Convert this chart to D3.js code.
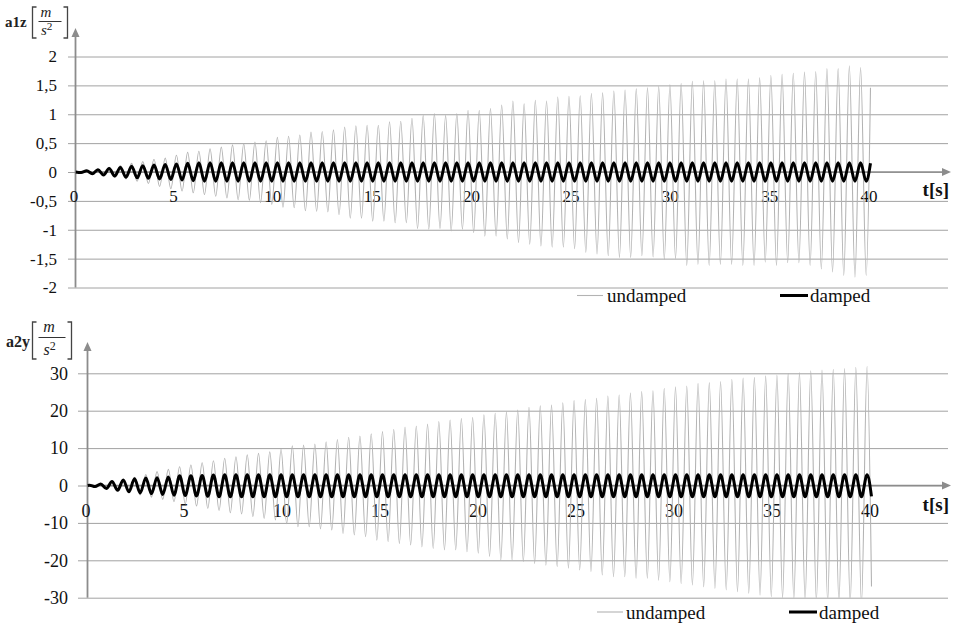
<!DOCTYPE html>
<html>
<head>
<meta charset="utf-8">
<script src="https://cdn.jsdelivr.net/npm/d3@7"></script>
<style>
  html, body { margin: 0; padding: 0; background: #fff; }
  svg, svg text { font-family: "Liberation Serif", "Times New Roman", serif; }
</style>
</head>
<body>
<svg id="chart" width="953" height="625"></svg>
<script>
// ---------------- data ----------------
const timeTicks = [0, 5, 10, 15, 20, 25, 30, 35, 40];
const a1zTicks = [-2, -1.5, -1, -0.5, 0, 0.5, 1, 1.5, 2];
const a2yTicks = [-30, -20, -10, 0, 10, 20, 30];
const seriesNames = ["undamped", "damped"];
const tEnd = 40; // s

// a1z: successive maxima / minima of the response (m/s²), half a period apart
const a1zPeriod = 0.5643;   // s
const a1zFirstPeak = 0;     // s
const a1zUndampedMax = [
  0, 0.02, 0.05, 0.08, 0.11, 0.15, 0.18, 0.22, 0.24, 0.29,
  0.34, 0.36, 0.40, 0.43, 0.47, 0.49, 0.52, 0.54, 0.60, 0.62,
  0.64, 0.69, 0.70, 0.73, 0.78, 0.80, 0.81, 0.81, 0.87, 0.88,
  0.93, 0.98, 1.01, 0.98, 1.01, 1.07, 1.07, 1.10, 1.16, 1.23,
  1.18, 1.24, 1.23, 1.30, 1.31, 1.32, 1.36, 1.37, 1.40, 1.42,
  1.44, 1.46, 1.48, 1.51, 1.53, 1.57, 1.58, 1.58, 1.61, 1.61,
  1.61, 1.63, 1.67, 1.69, 1.71, 1.73, 1.74, 1.79, 1.79, 1.84,
  1.81
];
const a1zUndampedMin = [
  -0.01, -0.03, -0.06, -0.09, -0.12, -0.16, -0.20, -0.25, -0.29, -0.33,
  -0.36, -0.39, -0.42, -0.45, -0.48, -0.49, -0.53, -0.56, -0.61, -0.62,
  -0.67, -0.68, -0.69, -0.74, -0.80, -0.80, -0.85, -0.85, -0.88, -0.88,
  -0.98, -0.99, -0.98, -1.02, -0.99, -1.05, -1.11, -1.11, -1.16, -1.22,
  -1.25, -1.28, -1.30, -1.30, -1.33, -1.39, -1.42, -1.45, -1.48, -1.48,
  -1.45, -1.47, -1.51, -1.50, -1.62, -1.60, -1.62, -1.60, -1.60, -1.62,
  -1.62, -1.56, -1.62, -1.57, -1.57, -1.62, -1.68, -1.73, -1.79, -1.82,
  -1.79
];
const a1zUndampedEnd = 1.46;
const a1zDampedMax = [
  0, 0.02, 0.04, 0.06, 0.08, 0.10, 0.11, 0.12, 0.13, 0.14,
  0.15, 0.16, 0.16, 0.16, 0.16, 0.16, 0.16, 0.16, 0.16, 0.16,
  0.16, 0.16, 0.16, 0.16, 0.16, 0.16, 0.16, 0.16, 0.16, 0.16,
  0.16, 0.16, 0.16, 0.16, 0.16, 0.16, 0.16, 0.16, 0.16, 0.16,
  0.16, 0.16, 0.16, 0.16, 0.16, 0.16, 0.16, 0.16, 0.16, 0.16,
  0.16, 0.16, 0.16, 0.16, 0.16, 0.16, 0.16, 0.16, 0.16, 0.16,
  0.16, 0.16, 0.16, 0.16, 0.16, 0.16, 0.16, 0.16, 0.16, 0.16,
  0.16
];
const a1zDampedMin = [
  -0.01, -0.03, -0.05, -0.07, -0.09, -0.10, -0.11, -0.12, -0.13, -0.14,
  -0.15, -0.16, -0.16, -0.16, -0.16, -0.16, -0.16, -0.16, -0.16, -0.16,
  -0.16, -0.16, -0.16, -0.16, -0.16, -0.16, -0.16, -0.16, -0.16, -0.16,
  -0.16, -0.16, -0.16, -0.16, -0.16, -0.16, -0.16, -0.16, -0.16, -0.16,
  -0.16, -0.16, -0.16, -0.16, -0.16, -0.16, -0.16, -0.16, -0.16, -0.16,
  -0.16, -0.16, -0.16, -0.16, -0.16, -0.16, -0.16, -0.16, -0.16, -0.16,
  -0.16, -0.16, -0.16, -0.16, -0.16, -0.16, -0.16, -0.16, -0.16, -0.16,
  -0.16
];
const a1zDampedEnd = 0.15;

// a2y: successive maxima / minima of the response (m/s²), half a period apart
const a2yPeriod = 0.575;    // s
const a2yFirstPeak = 0.1;   // s
const a2yUndampedMax = [
  0.1, 0.5, 1.0, 1.6, 2.2, 2.9, 3.7, 4.3, 5.0, 5.5,
  6.1, 6.6, 7.3, 7.7, 8.2, 8.6, 9.0, 9.7, 10.6, 10.8,
  11.1, 11.7, 12.3, 12.9, 13.2, 13.8, 14.4, 15.0, 15.6, 15.9,
  16.4, 17.1, 17.5, 17.9, 18.2, 18.9, 19.3, 19.7, 20.2, 20.9,
  21.3, 21.5, 22.1, 22.7, 23.0, 23.3, 23.9, 24.2, 24.7, 25.1,
  25.3, 26.0, 26.4, 26.6, 27.3, 27.5, 27.8, 28.4, 28.7, 28.9,
  29.3, 29.5, 30.0, 30.2, 30.7, 30.9, 31.1, 31.3, 31.6, 31.8
];
const a2yUndampedMin = [
  -0.3, -0.8, -1.3, -1.9, -2.5, -3.1, -3.7, -4.3, -4.9, -5.5,
  -6.1, -6.7, -7.3, -7.6, -8.3, -8.8, -9.2, -10.2, -11.0, -11.0,
  -11.6, -11.9, -12.8, -13.2, -13.7, -14.6, -15.0, -15.5, -15.9, -16.4,
  -16.8, -17.2, -17.2, -17.7, -18.1, -19.0, -19.9, -19.9, -20.4, -20.9,
  -21.3, -21.7, -22.1, -22.6, -23.0, -23.9, -24.4, -24.4, -24.8, -24.8,
  -25.3, -25.7, -26.2, -26.6, -27.1, -27.5, -27.9, -28.4, -28.8, -29.3,
  -29.7, -30.1, -30.4, -30.7, -30.9, -31.1, -31.3, -31.5, -31.7
];
const a2yUndampedEnd = -27.0;
const a2yDampedMax = [
  0.1, 0.4, 1.1, 1.5, 1.8, 2.0, 2.1, 2.3, 2.6, 2.6,
  2.7, 2.8, 2.85, 2.85, 2.85, 2.85, 2.85, 2.85, 2.85, 2.85,
  2.85, 2.85, 2.85, 2.85, 2.85, 2.85, 2.85, 2.85, 2.85, 2.85,
  2.85, 2.85, 2.85, 2.85, 2.85, 2.85, 2.85, 2.85, 2.85, 2.85,
  2.85, 2.85, 2.85, 2.85, 2.85, 2.85, 2.85, 2.85, 2.85, 2.85,
  2.85, 2.85, 2.85, 2.85, 2.85, 2.85, 2.85, 2.85, 2.85, 2.85,
  2.85, 2.85, 2.85, 2.85, 2.85, 2.85, 2.85, 2.85, 2.85, 2.85
];
const a2yDampedMin = [
  -0.3, -0.8, -1.3, -1.7, -2.0, -2.2, -2.4, -2.6, -2.7, -2.8,
  -2.9, -3.0, -3.0, -3.0, -3.0, -3.0, -3.0, -3.0, -3.0, -3.0,
  -3.0, -3.0, -3.0, -3.0, -3.0, -3.0, -3.0, -3.0, -3.0, -3.0,
  -3.0, -3.0, -3.0, -3.0, -3.0, -3.0, -3.0, -3.0, -3.0, -3.0,
  -3.0, -3.0, -3.0, -3.0, -3.0, -3.0, -3.0, -3.0, -3.0, -3.0,
  -3.0, -3.0, -3.0, -3.0, -3.0, -3.0, -3.0, -3.0, -3.0, -3.0,
  -3.0, -3.0, -3.0, -3.0, -3.0, -3.0, -3.0, -3.0, -3.0
];
const a2yDampedEnd = -2.9;

// ---------------- helpers ----------------
const SERIF = "Liberation Serif";

// Turns a list of maxima and minima into (t, value) points, starting at rest.
function extremaPoints(maxima, minima, firstPeak, period, endValue) {
  const pts = [[0, 0]];
  maxima.forEach((v, i) => {
    const tp = firstPeak + i * period;
    if (tp > 0) pts.push([tp, v]); else pts[0][1] = v;
    if (i < minima.length) pts.push([tp + period / 2, minima[i]]);
  });
  pts.push([tEnd, endValue]);
  return pts;
}

const comma = d3.formatLocale({
  decimal: ",", thousands: ".", grouping: [3], currency: ["", ""], minus: "-"
}).format("");

const panels = [
  {
    name: "a1z",
    ticks: a1zTicks,
    undamped: extremaPoints(a1zUndampedMax, a1zUndampedMin, a1zFirstPeak, a1zPeriod, a1zUndampedEnd),
    damped: extremaPoints(a1zDampedMax, a1zDampedMin, a1zFirstPeak, a1zPeriod, a1zDampedEnd),
    layout: {
      xRange: [75.5, 870.5], yRange: [287.5, 56.5], axisTop: 28, gridLeft: 68, right: 948,
      labelPad: 11, xLabelBaseline: 30, xLabelShift: -2, tickFont: 17,
      legendY: 295.5, legendBase: 302, legend: [[577, 603, 607], [780, 808, 810]],
      title: { x: 5, base: 27, size: 15, lb: 32.5, rb: 67.5, top: 7, bottom: 38, mX: 46, mBase: 16.5, barY: 21.5, sX: 41, sBase: 35, frac: 15 }
    }
  },
  {
    name: "a2y",
    ticks: a2yTicks,
    undamped: extremaPoints(a2yUndampedMax, a2yUndampedMin, a2yFirstPeak, a2yPeriod, a2yUndampedEnd),
    damped: extremaPoints(a2yDampedMax, a2yDampedMin, a2yFirstPeak, a2yPeriod, a2yDampedEnd),
    layout: {
      xRange: [87.5, 871.5], yRange: [597.7, 373.3], axisTop: 342, gridLeft: 78, right: 948,
      labelPad: 10, xLabelBaseline: 31, xLabelShift: -2, tickFont: 18,
      legendY: 612, legendBase: 619, legend: [[597, 623, 626], [789, 817, 819]],
      title: { x: 6, base: 347, size: 16, lb: 32.5, rb: 71.5, top: 322, bottom: 359, mX: 49, mBase: 332, barY: 337.5, sX: 43.5, sBase: 355, frac: 16 }
    }
  }
];

// ---------------- drawing ----------------
const svg = d3.select("#chart").attr("font-family", SERIF);
const defs = svg.append("defs");
const axisGrey = "#8c8c8c";
const gridGrey = "#a2a2a2";

panels.forEach(p => {
  const L = p.layout;
  const x = d3.scaleLinear().domain([0, tEnd]).range(L.xRange);
  const y = d3.scaleLinear().domain(d3.extent(p.ticks)).range(L.yRange);
  const g = svg.append("g").attr("class", "panel-" + p.name);

  // horizontal gridlines + value labels
  g.append("g")
    .attr("transform", `translate(${L.gridLeft},0)`)
    .call(d3.axisLeft(y).tickValues(p.ticks).tickFormat(comma)
      .tickSize(-(L.right - L.gridLeft)).tickPadding(L.labelPad))
    .attr("font-family", SERIF)
    .call(s => s.select(".domain").remove())
    .call(s => s.selectAll(".tick line").attr("stroke", gridGrey).attr("stroke-width", 1))
    .call(s => s.selectAll(".tick text")
      .attr("font-family", SERIF).attr("font-size", L.tickFont).attr("fill", "#111"));

  // time axis with arrow
  const y0 = y(0);
  g.append("line")
    .attr("x1", L.xRange[0]).attr("x2", L.right - 2)
    .attr("y1", y0).attr("y2", y0)
    .attr("stroke", axisGrey).attr("stroke-width", 1.5);
  g.append("path")
    .attr("d", `M${L.right + 3},${y0} L${L.right - 6},${y0 - 4} L${L.right - 6},${y0 + 4} Z`)
    .attr("fill", axisGrey);

  // value axis with arrow
  const ax = L.xRange[0];
  g.append("line")
    .attr("x1", ax).attr("x2", ax)
    .attr("y1", L.yRange[0]).attr("y2", L.axisTop + 6)
    .attr("stroke", axisGrey).attr("stroke-width", 1.8);
  g.append("path")
    .attr("d", `M${ax},${L.axisTop} L${ax - 4},${L.axisTop + 9} L${ax + 4},${L.axisTop + 9} Z`)
    .attr("fill", axisGrey);

  // time tick labels
  g.append("g")
    .attr("transform", `translate(${L.xLabelShift},${y0})`)
    .call(d3.axisBottom(x).tickValues(timeTicks).tickFormat(d3.format("d"))
      .tickSize(0).tickPadding(0))
    .attr("font-family", SERIF)
    .call(s => s.select(".domain").remove())
    .call(s => s.selectAll(".tick text")
      .attr("font-family", SERIF).attr("font-size", L.tickFont).attr("fill", "#111")
      .attr("dy", null).attr("y", L.xLabelBaseline));

  g.append("text")
    .attr("x", 949).attr("y", y0 + L.xLabelBaseline - 6)
    .attr("text-anchor", "end").attr("font-family", SERIF)
    .attr("font-size", 19).attr("font-weight", "bold").attr("fill", "#111")
    .text("t[s]");

  // series, clipped to the value range
  const clipId = "clip-" + p.name;
  defs.append("clipPath").attr("id", clipId)
    .append("rect")
    .attr("x", ax).attr("y", L.yRange[1] - 30)
    .attr("width", L.right - ax).attr("height", L.yRange[0] - L.yRange[1] + 30);

  const line = d3.line()
    .x(d => x(d[0])).y(d => y(d[1]))
    .curve(d3.curveMonotoneX);

  const plot = g.append("g").attr("clip-path", `url(#${clipId})`);
  plot.append("path")
    .datum(p.undamped)
    .attr("d", line)
    .attr("fill", "none").attr("stroke", "#b3b3b3").attr("stroke-width", 1.1);
  plot.append("path")
    .datum(p.damped)
    .attr("d", line)
    .attr("fill", "none").attr("stroke", "#000").attr("stroke-width", 3)
    .attr("stroke-linejoin", "round");

  // legend
  const leg = g.append("g");
  seriesNames.forEach((name, i) => {
    const [lx1, lx2, tx] = L.legend[i];
    leg.append("line")
      .attr("x1", lx1).attr("x2", lx2).attr("y1", L.legendY).attr("y2", L.legendY)
      .attr("stroke", i === 0 ? "#b3b3b3" : "#000")
      .attr("stroke-width", i === 0 ? 1.1 : 3);
    leg.append("text")
      .attr("x", tx).attr("y", L.legendBase)
      .attr("font-family", SERIF).attr("font-size", 19).attr("fill", "#111")
      .text(name);
  });

  // axis title: name [m / s²]
  const T = L.title;
  const tg = g.append("g").attr("fill", "#222").attr("font-family", SERIF);
  tg.append("text").attr("x", T.x).attr("y", T.base)
    .attr("font-size", T.size).attr("font-weight", "bold").text(p.name);
  const bracket = (xv, dir) =>
    `M${xv + 4 * dir},${T.top} L${xv},${T.top} L${xv},${T.bottom} L${xv + 4 * dir},${T.bottom}`;
  tg.append("path").attr("d", bracket(T.lb, 1))
    .attr("fill", "none").attr("stroke", "#444").attr("stroke-width", 1.3);
  tg.append("path").attr("d", bracket(T.rb, -1))
    .attr("fill", "none").attr("stroke", "#444").attr("stroke-width", 1.3);
  tg.append("text").attr("x", T.mX).attr("y", T.mBase).attr("text-anchor", "middle")
    .attr("font-size", T.frac).attr("font-style", "italic").text("m");
  tg.append("line")
    .attr("x1", T.lb + 6).attr("x2", T.rb - 6).attr("y1", T.barY).attr("y2", T.barY)
    .attr("stroke", "#333").attr("stroke-width", 1);
  const sText = tg.append("text").attr("x", T.sX).attr("y", T.sBase)
    .attr("font-size", T.frac).attr("font-style", "italic");
  sText.append("tspan").text("s");
  sText.append("tspan").attr("dy", -5).attr("font-size", T.frac * 0.75)
    .attr("font-style", "normal").text("2");
});
</script>
</body>
</html>
